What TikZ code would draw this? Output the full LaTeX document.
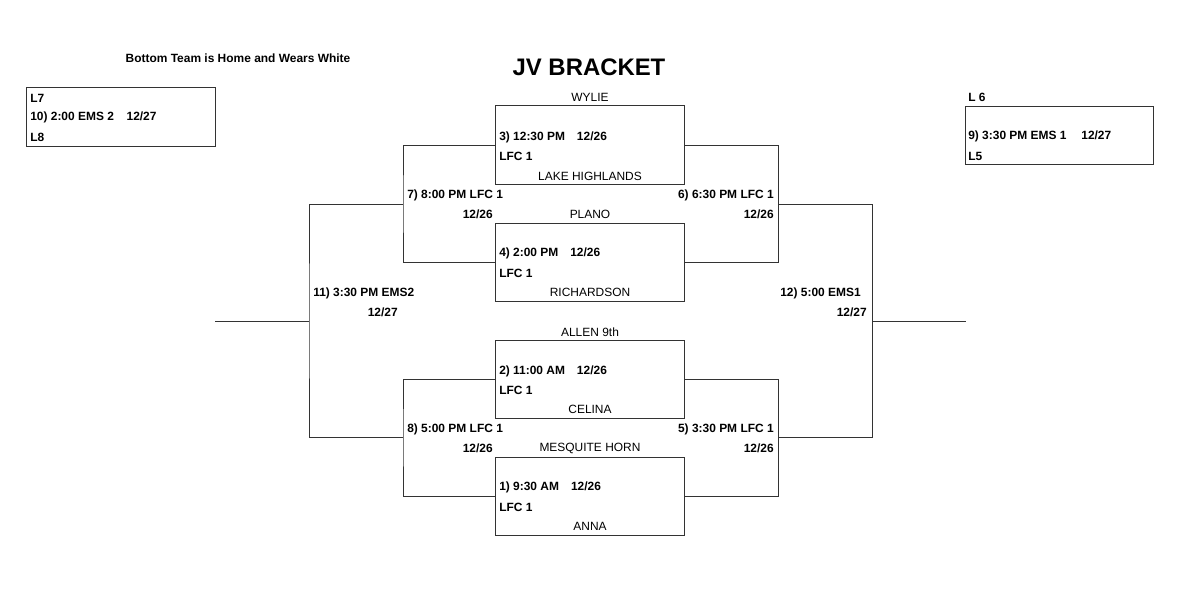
\documentclass[tikz,border=0pt]{standalone}
\usepackage{fontspec}
\setmainfont{Liberation Sans}
\usetikzlibrary{positioning}
\tikzset{
  gamebox/.style={
    draw=black!80,
    line width=0.7pt,
    minimum width=4.7cm,
    minimum height=1.95cm,
    inner sep=0pt
  },
  sidebox/.style={gamebox, minimum height=1.475cm},
  teamlbl/.style={inner sep=0pt, font=\fontsize{8.5}{10}\selectfont},
  gamelbl/.style={inner sep=0pt, anchor=west, font=\fontsize{8.5}{10}\selectfont\bfseries},
  datelbl/.style={gamelbl, anchor=east},
  wire/.style={draw=black!80, line width=0.7pt}
}

\begin{document}
\begin{tikzpicture}[x=0.025cm, y=-0.025cm]
\useasboundingbox (0,0) rectangle (1200,604);

% headings
\node[inner sep=0pt, font=\fontsize{17}{20}\selectfont\bfseries] (title) at (589,67) {JV BRACKET};
\node[gamelbl, anchor=center] (note) at (238,58) {Bottom Team is Home and Wears White};

% first round boxes
\node[gamebox] (g3) at (590,145) {};
\node[gamebox] (g4) at (590,262) {};
\node[gamebox] (g2) at (590,379) {};
\node[gamebox] (g1) at (590,496) {};

\node[teamlbl] (wylie) at (590,97) {WYLIE};
\node[gamelbl] (g3a) at (499,137) {3) 12:30 PM\quad 12/26};
\node[gamelbl] (g3b) at (499,156) {LFC 1};
\node[teamlbl] (lakeh) at (590,176) {LAKE HIGHLANDS};

\node[teamlbl] (plano) at (590,214) {PLANO};
\node[gamelbl] (g4a) at (499,253) {4) 2:00 PM\quad 12/26};
\node[gamelbl] (g4b) at (499,273) {LFC 1};
\node[teamlbl] (richardson) at (590,292) {RICHARDSON};

\node[teamlbl] (allen) at (590,332) {ALLEN 9th};
\node[gamelbl] (g2a) at (499,371) {2) 11:00 AM\quad 12/26};
\node[gamelbl] (g2b) at (499,390) {LFC 1};
\node[teamlbl] (celina) at (590,409) {CELINA};

\node[teamlbl] (mesquite) at (590,448) {MESQUITE HORN};
\node[gamelbl] (g1a) at (499,487) {1) 9:30 AM\quad 12/26};
\node[gamelbl] (g1b) at (499,507) {LFC 1};
\node[teamlbl] (anna) at (590,526) {ANNA};

% second round
\coordinate (b7) at (403,204);
\coordinate (b8) at (403,437.5);
\coordinate (b6) at (778,204);
\coordinate (b5) at (778,437.5);
\draw[wire] (g3.west) -| (b7) |- (g4.west);
\draw[wire] (g2.west) -| (b8) |- (g1.west);
\draw[wire] (g3.east) -| (b6) |- (g4.east);
\draw[wire] (g2.east) -| (b5) |- (g1.east);

\node[gamelbl] (g7a) at (407,195) {7) 8:00 PM LFC 1};
\node[datelbl] (g7b) at (493,214) {12/26};
\node[datelbl] (g6a) at (774,195) {6) 6:30 PM LFC 1};
\node[datelbl] (g6b) at (774,214) {12/26};
\node[gamelbl] (g8a) at (407,429) {8) 5:00 PM LFC 1};
\node[datelbl] (g8b) at (493,448) {12/26};
\node[datelbl] (g5a) at (774,429) {5) 3:30 PM LFC 1};
\node[datelbl] (g5b) at (774,448) {12/26};

% semi finals
\coordinate (b11) at (309,321);
\coordinate (b12) at (872,321);
\coordinate (out11) at (215,321);
\coordinate (out12) at (966,321);
\draw[wire] (b7) -| (b11) |- (b8);
\draw[wire] (b6) -| (b12) |- (b5);
\draw[wire] (b11) -- (out11);
\draw[wire] (b12) -- (out12);

\node[gamelbl] (g11a) at (313,293) {11) 3:30 PM EMS2};
\node[datelbl] (g11b) at (398,312) {12/27};
\node[datelbl] (g12a) at (861,293) {12) 5:00 EMS1};
\node[datelbl] (g12b) at (867,312) {12/27};

% consolation games
\node[sidebox] (g10) at (121,116.5) {};
\node[gamelbl] (g10a) at (30,98) {L7};
\node[gamelbl] (g10b) at (30,117) {10) 2:00 EMS 2\hspace{9pt}12/27};
\node[gamelbl] (g10c) at (30,137) {L8};

\node[sidebox, minimum height=1.45cm] (g9) at (1059,135) {};
\node[gamelbl] (g9a) at (968,97) {L 6};
\node[gamelbl] (g9b) at (968,136) {9) 3:30 PM EMS 1\hspace{10.5pt}12/27};
\node[gamelbl] (g9c) at (968,156) {L5};
\end{tikzpicture}
\end{document}
